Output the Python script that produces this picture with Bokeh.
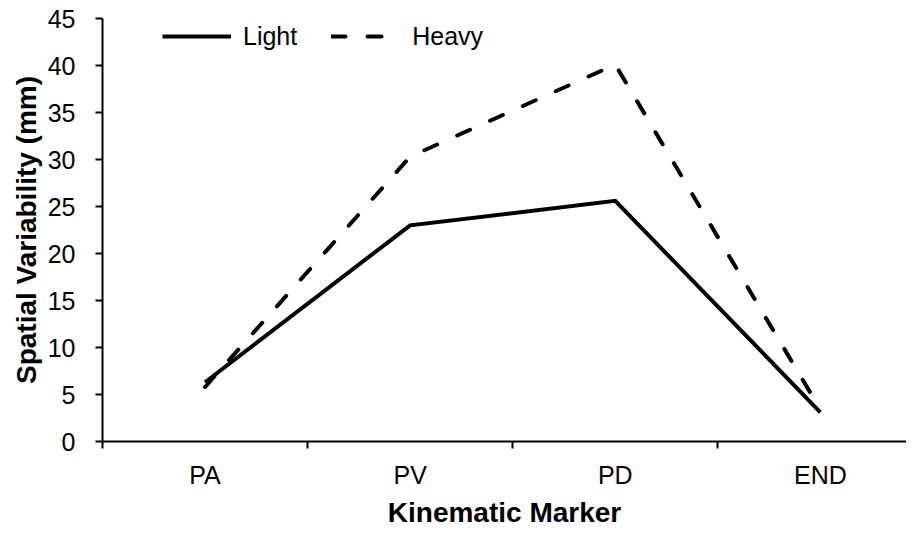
from bokeh.plotting import figure
from bokeh.models import FixedTicker, Range1d, Legend, LegendItem
from bokeh.embed import file_html
from bokeh.resources import INLINE

categories = ["PA", "PV", "PD", "END"]
light = [6.3, 23.0, 25.6, 3.1]
heavy = [5.8, 30.3, 40.1, 3.4]
y_ticks = [0, 5, 10, 15, 20, 25, 30, 35, 40, 45]

xs = [i + 0.5 for i in range(len(categories))]

FONT = "Liberation Sans"

p = figure(width=906, height=534, output_backend="svg", toolbar_location=None,
           x_range=Range1d(0, 3.92), y_range=Range1d(0, 45),
           min_border_left=102, min_border_right=0, min_border_top=18,
           min_border_bottom=93)
p.outline_line_color = None
p.grid.grid_line_color = None
p.background_fill_color = "white"

r1 = p.line(xs, light, line_color="black", line_width=4, line_join="miter")
r2 = p.line(xs, heavy, line_color="black", line_width=4, line_dash="14 22",
            line_cap="round", line_join="miter")

xa = p.xaxis[0]
xa.ticker = FixedTicker(ticks=xs, minor_ticks=list(range(len(categories) + 1)))
xa.major_label_overrides = {x: c for x, c in zip(xs, categories)}
xa.major_tick_line_color = None
xa.minor_tick_out = 7
xa.minor_tick_in = 0
xa.minor_tick_line_width = 2
xa.axis_line_width = 2
xa.major_label_text_font = FONT
xa.major_label_text_font_size = "25px"
xa.major_label_text_color = "black"
xa.major_label_standoff = 12
xa.axis_label = "Kinematic Marker"
xa.axis_label_text_font = FONT
xa.axis_label_text_font_style = "bold"
xa.axis_label_text_font_size = "28px"
xa.axis_label_text_color = "black"
xa.axis_label_standoff = 5

ya = p.yaxis[0]
ya.ticker = FixedTicker(ticks=y_ticks, minor_ticks=[])
ya.major_tick_out = 7
ya.major_tick_in = 0
ya.major_tick_line_width = 2
ya.axis_line_width = 2
ya.major_label_text_font = FONT
ya.major_label_text_font_size = "25px"
ya.major_label_text_color = "black"
ya.major_label_standoff = 20
ya.axis_label = "Spatial Variability (mm)"
ya.axis_label_text_font = FONT
ya.axis_label_text_font_style = "bold"
ya.axis_label_text_font_size = "28px"
ya.axis_label_text_color = "black"
ya.axis_label_standoff = 3

legend = Legend(items=[LegendItem(label="Light", renderers=[r1]),
                       LegendItem(label="Heavy", renderers=[r2])],
                orientation="horizontal")
legend.label_text_font = FONT
legend.label_text_font_size = "25px"
legend.label_text_color = "black"
legend.glyph_width = 69
legend.glyph_height = 30
legend.spacing = 34
legend.label_standoff = 12
legend.border_line_color = None
legend.background_fill_alpha = 0
legend.padding = 0
legend.margin = 0
legend.location = (60, 390)
p.add_layout(legend, "center")

open("out.html", "w").write(file_html(p, INLINE))
